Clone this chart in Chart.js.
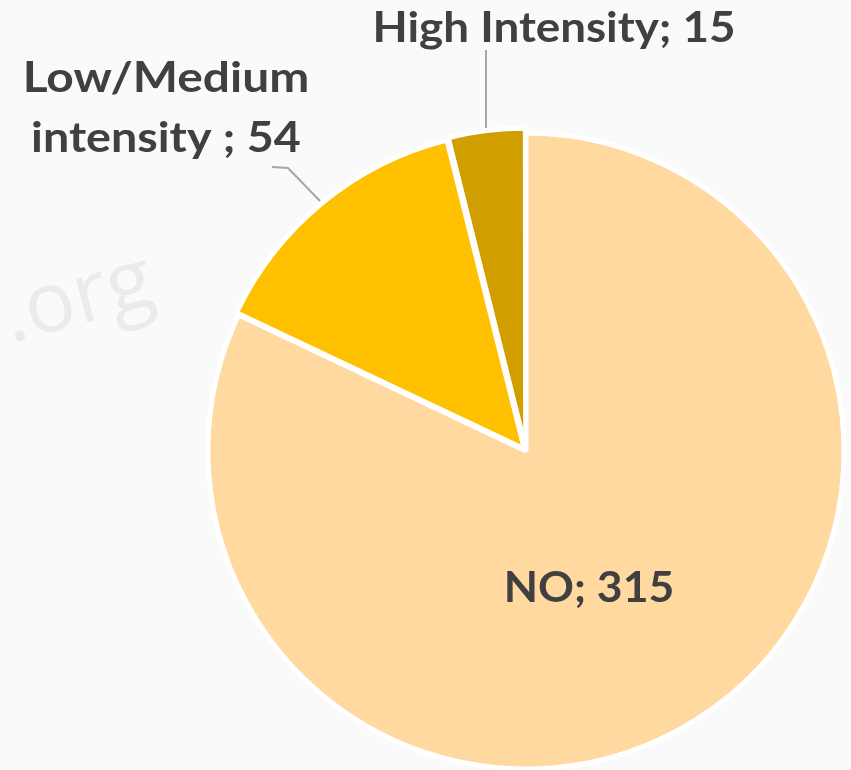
<!DOCTYPE html>
<html>
<head>
<meta charset="utf-8">
<script src="https://cdn.jsdelivr.net/npm/chart.js@4.4.1/dist/chart.umd.min.js"></script>
<style>
  html, body { margin: 0; padding: 0; background: #fafafa; }
  #wrap { position: relative; width: 851px; height: 770px; }
</style>
</head>
<body>
<div id="wrap"><canvas id="pie" width="851" height="770"></canvas></div>
<script>
const categories = ['NO', 'Low/Medium intensity ', 'High Intensity'];
const counts = [315, 54, 15];
const sliceColors = ['#ffd99f', '#ffc000', '#d19e00'];

// the original font is wider than Lato, so stretch it a bit
function wideText(ctx, txt, x, y, sx) {
    ctx.save();
    ctx.translate(x, y);
    ctx.scale(sx, 1);
    ctx.fillText(txt, 0, 0);
    ctx.restore();
}

const labelPlugin = {
    id: 'sliceLabels',
    beforeDraw(chart) {
        const ctx = chart.ctx;
        ctx.save();
        ctx.fillStyle = '#fafafa';
        ctx.fillRect(0, 0, chart.width, chart.height);
        // faint watermark
        ctx.translate(78, 300);
        ctx.rotate(-0.26);
        ctx.fillStyle = '#ebebeb';
        ctx.font = '84px "Open Sans"';
        ctx.textAlign = 'center';
        ctx.textBaseline = 'middle';
        ctx.fillText('.org', 0, 0);
        ctx.restore();
    },
    afterDatasetsDraw(chart) {
        const ctx = chart.ctx;
        ctx.save();
        ctx.strokeStyle = '#a6a6a6';
        ctx.lineWidth = 2;
        ctx.beginPath();
        ctx.moveTo(486, 50);
        ctx.lineTo(486, 128);
        ctx.moveTo(272, 167);
        ctx.lineTo(288, 168);
        ctx.lineTo(320, 201);
        ctx.stroke();

        ctx.fillStyle = '#404040';
        ctx.font = 'bold 42px Lato';
        ctx.textAlign = 'center';
        ctx.textBaseline = 'alphabetic';
        wideText(ctx, categories[2] + '; ' + counts[2], 554, 42, 1.09);
        wideText(ctx, 'Low/Medium', 166, 92, 1.14);
        wideText(ctx, 'intensity ; ' + counts[1], 166, 152, 1.11);
        wideText(ctx, categories[0] + '; ' + counts[0], 589, 602, 1.06);
        ctx.restore();
    }
};

new Chart(document.getElementById('pie'), {
    type: 'pie',
    data: {
        labels: categories,
        datasets: [{
            data: counts,
            backgroundColor: sliceColors,
            borderColor: '#ffffff',
            borderWidth: 5,
            offset: [0, 10, 11]
        }]
    },
    options: {
        responsive: false,
        animation: false,
        radius: 318,
        layout: { padding: { left: 201, right: 0, top: 132, bottom: 0 } },
        plugins: {
            legend: { display: false },
            tooltip: { enabled: false }
        }
    },
    plugins: [labelPlugin]
});
</script>
</body>
</html>
